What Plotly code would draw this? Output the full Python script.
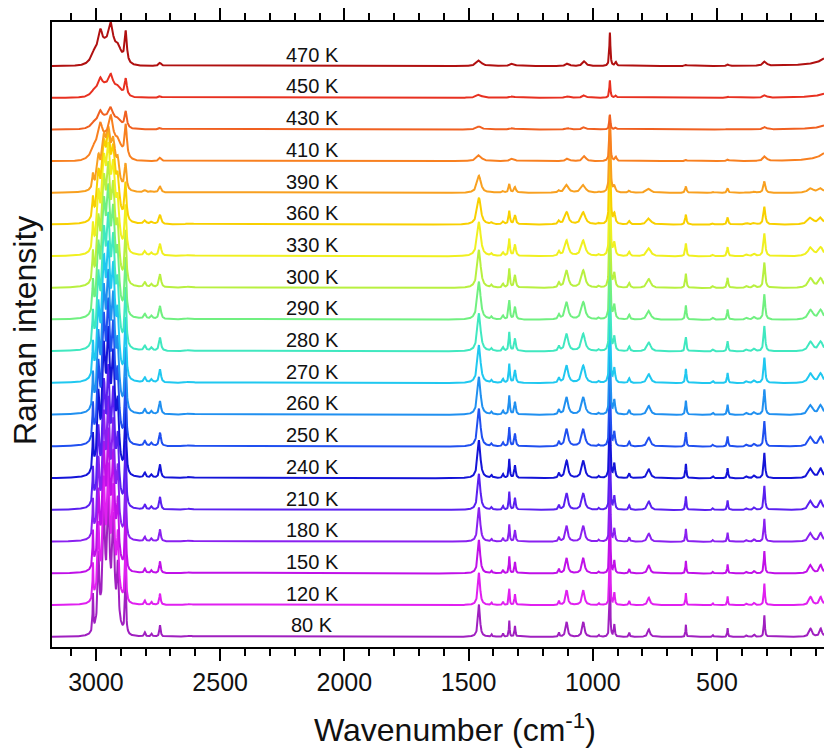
import numpy as np
import plotly.graph_objects as go

# ---------------- data ----------------
temps = [80, 120, 150, 180, 210, 240, 250, 260, 270, 280, 290, 300, 330, 360, 390, 410, 430, 450, 470]
labels = [f"{t} K" for t in temps]
colors = ["#a020c0", "#e020f0", "#c010e8", "#8a20f0", "#5a20f0", "#1414d8", "#2050f0", "#2090f0",
          "#20c8f0", "#40e8c0", "#70f080", "#b8f040", "#f0f020", "#f8d000", "#f8a020", "#f88020",
          "#f06020", "#e83020", "#b01010"]

# per-temperature scale factors (vertical units = trace spacing)
lt_fp_scale = [0.85, 0.85, 0.88, 0.9, 0.95, 1.0, 1.0, 1.0, 1.0, 1.0, 1.0, 1.0, 0.9, 0.7, 0.45, 0, 0, 0, 0]
lt_ch_max = [4.6, 4.5, 4.6, 4.6, 4.6, 4.8, 4.7, 4.6, 4.5, 4.4, 4.3, 4.0, 3.6, 3.0, 2.1, 0, 0, 0, 0]
width_fac = [0.6, 0.65, 0.7, 0.75, 0.8, 0.85, 0.88, 0.9, 0.93, 0.96, 0.98, 1.0, 1.05, 1.1, 1.15, 1, 1, 1, 1]
ht_scale = [0] * 15 + [1.05, 0.52, 0.55, 1.0]
peak931 = [3.0] * 14 + [2.4, 1.45, 0.47, 0.55, 1.05]

# low-temperature phase: fingerprint + overtone peaks (centre cm-1, HWHM, height)
fp_centers = [2803, 2776, 2742, 2622, 1458, 1407, 1361, 1336, 1313, 1136, 1105, 1038, 975, 913,
              853, 774, 625, 516, 457, 380, 350, 309, 123, 82]
fp_hwhm = [5, 5, 5, 20, 8, 4, 4, 3, 4, 4, 8, 9, 4, 4, 4, 9, 3, 4, 3, 6, 6, 4, 12, 10]
fp_amp = [0.15, 0.1, 0.42, 0.04, 1.2, 0.08, 0.12, 0.6, 0.4, 0.15, 0.55, 0.55, 0.06, 0.45,
          0.15, 0.28, 0.45, 0.06, 0.32, 0.06, 0.08, 0.8, 0.3, 0.3]

# low-temperature phase: C-H stretching band (relative heights)
ch_centers = [3012, 2990, 2968, 2950, 2930, 2912, 2881]
ch_hwhm = [3, 6, 8, 8, 8, 6, 4]
ch_amp = [0.3, 0.55, 0.8, 0.85, 0.75, 0.45, 0.55]
ch_base = (2950, 30, 0.25)  # centre, sigma, height

# high-temperature phase peaks
ht_centers = [3005, 2982, 2940, 2910, 2880, 2742, 1458, 1323, 1101, 1034, 907, 625, 456, 307, 20]
ht_hwhm = [15, 8, 8, 10, 5, 6, 12, 10, 8, 8, 4, 4, 4, 8, 40]
ht_amp = [0.25, 0.55, 0.6, 0.2, 0.95, 0.1, 0.18, 0.08, 0.08, 0.15, 0.12, 0.04, 0.05, 0.14, 0.6]
ht_base = (2950, 38, 0.75)

# ---------------- build spectra ----------------
wn = np.arange(69, 3178, 1.0)


def lor(c, w, a):
    return a / (1.0 + ((wn - c) / w) ** 2)


def gau(c, s, a):
    return a * np.exp(-((wn - c) ** 2) / (2 * s * s))


fig = go.Figure()
for i, t in enumerate(temps):
    y = np.zeros_like(wn)
    wf = width_fac[i]
    if lt_fp_scale[i] > 0:
        for c, w, a in zip(fp_centers, fp_hwhm, fp_amp):
            y += lor(c, w * wf, a * lt_fp_scale[i])
    if lt_ch_max[i] > 0:
        ch = np.zeros_like(wn)
        for c, w, a in zip(ch_centers, ch_hwhm, ch_amp):
            ch += lor(c, w * wf, a)
        ch += gau(ch_base[0], ch_base[1], ch_base[2])
        y += ch / ch.max() * lt_ch_max[i]
    if ht_scale[i] > 0:
        for c, w, a in zip(ht_centers, ht_hwhm, ht_amp):
            y += lor(c, w, a * ht_scale[i])
        y += gau(ht_base[0], ht_base[1], ht_base[2] * ht_scale[i])
    y += lor(931, 2.5 * (wf if lt_fp_scale[i] > 0 else 1), peak931[i])
    fig.add_trace(go.Scatter(x=wn, y=y + i, mode="lines",
                             line=dict(color=colors[i], width=2), hoverinfo="skip",
                             showlegend=False))
    fig.add_annotation(x=2130, y=i + 0.36, text=labels[i], showarrow=False,
                       font=dict(size=20, color="#111111", family="Liberation Sans"),
                       xanchor="center", yanchor="middle")

fig.add_annotation(xref="paper", yref="paper", x=0.522, y=-0.13,
                   text="Wavenumber (cm<sup>-1</sup>)", showarrow=False,
                   font=dict(size=32, color="#111111", family="Liberation Sans"),
                   xanchor="center", yanchor="middle")
fig.add_annotation(xref="paper", yref="paper", x=-0.035, y=0.507,
                   text="Raman intensity", showarrow=False, textangle=-90,
                   font=dict(size=32, color="#111111", family="Liberation Sans"),
                   xanchor="center", yanchor="middle")

fig.update_layout(
    width=824, height=749,
    margin=dict(l=52, r=0, t=22, b=102),
    paper_bgcolor="white", plot_bgcolor="white",
    font=dict(family="Liberation Sans", color="#111111"),
    xaxis=dict(range=[3177, 69], tickvals=[3000, 2500, 2000, 1500, 1000, 500],
               ticks="outside", ticklen=12, tickwidth=2, tickcolor="black",
               minor=dict(tick0=0, dtick=100, ticks="outside", ticklen=7, tickwidth=2, tickcolor="black"),
               showline=True, linewidth=2, linecolor="black", mirror="allticks",
               showgrid=False, zeroline=False, tickfont=dict(size=25, color="#111111")),
    yaxis=dict(range=[-0.32, 19.39], showticklabels=False, ticks="", showline=True,
               linewidth=2, linecolor="black", mirror=False, showgrid=False, zeroline=False),
)

fig.write_html("out.html")
